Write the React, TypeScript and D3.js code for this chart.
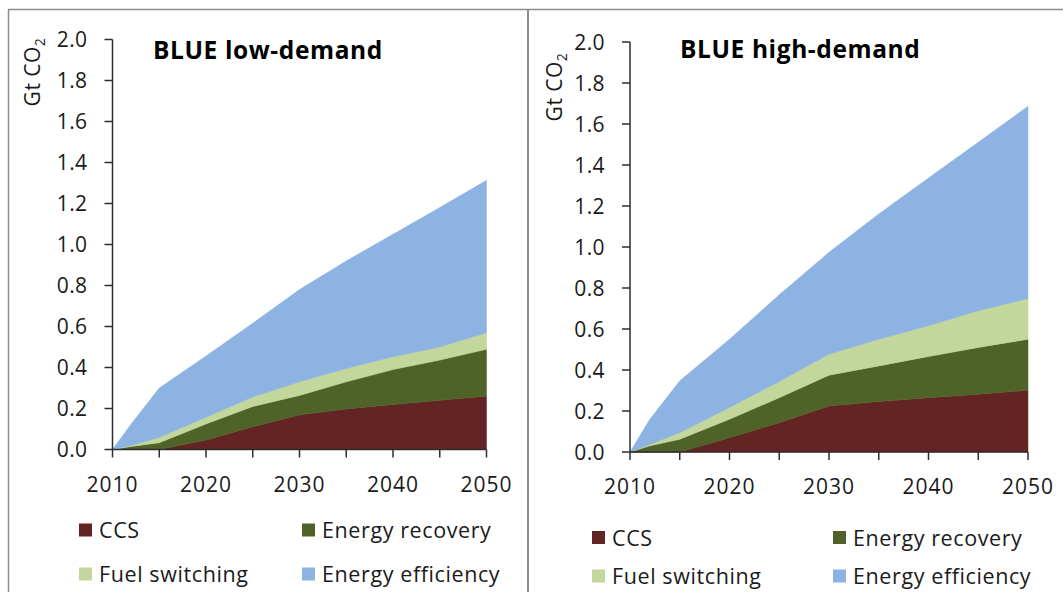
import React from "react";
import * as d3 from "d3";

const years = [2010, 2012, 2015, 2020, 2025, 2030, 2035, 2040, 2045, 2050];
const seriesNames = ["CCS", "Energy recovery", "Fuel switching", "Energy efficiency"];
const seriesColors = ["#632523", "#4f6228", "#c3d69b", "#8db3e2"];

// BLUE low-demand (Gt CO2, individual contributions)
const lowCCS = [0, 0, 0, 0.046, 0.111, 0.169, 0.198, 0.22, 0.24, 0.26];
const lowRecovery = [0, 0.015, 0.033, 0.079, 0.099, 0.095, 0.132, 0.17, 0.196, 0.229];
const lowFuel = [0, 0.005, 0.026, 0.032, 0.046, 0.066, 0.065, 0.062, 0.064, 0.081];
const lowEfficiency = [0, 0.105, 0.241, 0.299, 0.36, 0.45, 0.525, 0.598, 0.68, 0.743];

// BLUE high-demand
const highCCS = [0, 0, 0, 0.07, 0.143, 0.225, 0.246, 0.265, 0.282, 0.301];
const highRecovery = [0, 0.03, 0.062, 0.09, 0.122, 0.15, 0.174, 0.201, 0.228, 0.249];
const highFuel = [0, 0.007, 0.032, 0.057, 0.079, 0.102, 0.13, 0.15, 0.179, 0.199];
const highEfficiency = [0, 0.123, 0.253, 0.333, 0.423, 0.497, 0.611, 0.721, 0.822, 0.937];

const yTicks = [0, 0.2, 0.4, 0.6, 0.8, 1.0, 1.2, 1.4, 1.6, 1.8, 2.0];
const xMinorTicks = [2010, 2015, 2020, 2025, 2030, 2035, 2040, 2045, 2050];
const xLabelTicks = [2010, 2020, 2030, 2040, 2050];

const FONT = "'Open Sans', 'DejaVu Sans', sans-serif";

type PanelProps = {
  title: string;
  series: number[][];
  x0: number; x1: number; y0: number; y1: number;
  titleX: number; titleY: number;
  labelX: number; labelY: number;
  legendX: number[]; legendY: number[];
};

function Panel(p: PanelProps) {
  const x = d3.scaleLinear().domain([2010, 2050]).range([p.x0, p.x1]);
  const y = d3.scaleLinear().domain([0, 2]).range([p.y0, p.y1]);
  const rows = years.map((yr, i) => {
    const r: any = { year: yr };
    seriesNames.forEach((n, k) => (r[n] = p.series[k][i]));
    return r;
  });
  const stacked = d3.stack().keys(seriesNames)(rows);
  const area = d3
    .area<any>()
    .x((d) => x(d.data.year))
    .y0((d) => y(d[0]))
    .y1((d) => y(d[1]));
  const axisColor = "#2e2e2e";
  return (
    <g>
      {stacked.map((s, k) => (
        <path key={k} d={area(s as any) || ""} fill={seriesColors[k]} stroke={seriesColors[k]} strokeWidth={0.5} />
      ))}
      {/* y axis */}
      <line x1={p.x0} x2={p.x0} y1={y(0)} y2={y(2)} stroke={axisColor} strokeWidth={1.5} />
      {yTicks.map((t) => (
        <g key={t}>
          <line x1={p.x0 - 8} x2={p.x0} y1={y(t)} y2={y(t)} stroke={axisColor} strokeWidth={1.5} />
          <text x={p.x0 - 25} y={y(t)} dy="0.36em" textAnchor="end" fontSize={21} fill="#1a1a1a" fontFamily={FONT} letterSpacing={0.4}>
            {t.toFixed(1)}
          </text>
        </g>
      ))}
      {/* x axis */}
      <line x1={p.x0} x2={p.x1} y1={y(0)} y2={y(0)} stroke={axisColor} strokeWidth={1.5} />
      {xMinorTicks.map((t) => (
        <line key={t} x1={x(t)} x2={x(t)} y1={y(0)} y2={y(0) + 8} stroke={axisColor} strokeWidth={1.5} />
      ))}
      {xLabelTicks.map((t) => (
        <text key={t} x={x(t)} y={y(0) + 42} textAnchor="middle" fontSize={21} fill="#1a1a1a" fontFamily={FONT} letterSpacing={1}>
          {t}
        </text>
      ))}
      <text x={p.titleX} y={p.titleY} fontSize={24.5} fontWeight="bold" fill="#000" fontFamily={FONT} letterSpacing={0.6}>
        {p.title}
      </text>
      <text transform={`translate(${p.labelX},${p.labelY}) rotate(-90)`} textAnchor="middle" fontSize={21} fill="#1a1a1a" fontFamily={FONT} letterSpacing={0.5}>
        Gt CO<tspan fontSize={14} dy={5}>2</tspan>
      </text>
      {seriesNames.map((n, k) => {
        const lx = p.legendX[k % 2];
        const ly = p.legendY[Math.floor(k / 2)];
        return (
          <g key={n}>
            <rect x={lx} y={ly - 7} width={13} height={13} fill={seriesColors[k]} />
            <text x={lx + 20} y={ly} dy="0.35em" fontSize={21.5} fill="#1a1a1a" fontFamily={FONT} letterSpacing={0.6}>
              {n}
            </text>
          </g>
        );
      })}
    </g>
  );
}

export default function App() {
  const border = "#8c8c8c";
  return (
    <svg width={1063} height={592} style={{ position: "absolute", left: 0, top: 0, background: "#fff" }}>
      <rect x={0} y={0} width={1063} height={592} fill="#fff" />
      <line x1={8} x2={1063} y1={9.5} y2={9.5} stroke={border} strokeWidth={1.5} />
      <line x1={8.5} x2={8.5} y1={9.5} y2={592} stroke={border} strokeWidth={1.5} />
      <line x1={528} x2={528} y1={9.5} y2={592} stroke={border} strokeWidth={2} />
      <Panel
        title="BLUE low-demand"
        series={[lowCCS, lowRecovery, lowFuel, lowEfficiency]}
        x0={112.5} x1={486.5} y0={449.5} y1={39.5}
        titleX={153} titleY={59}
        labelX={40} labelY={72}
        legendX={[79, 302]} legendY={[530.5, 574.5]}
      />
      <Panel
        title="BLUE high-demand"
        series={[highCCS, highRecovery, highFuel, highEfficiency]}
        x0={630} x1={1028} y0={452} y1={42}
        titleX={680} titleY={58}
        labelX={562} labelY={87}
        legendX={[592, 833]} legendY={[538, 576.5]}
      />
    </svg>
  );
}
